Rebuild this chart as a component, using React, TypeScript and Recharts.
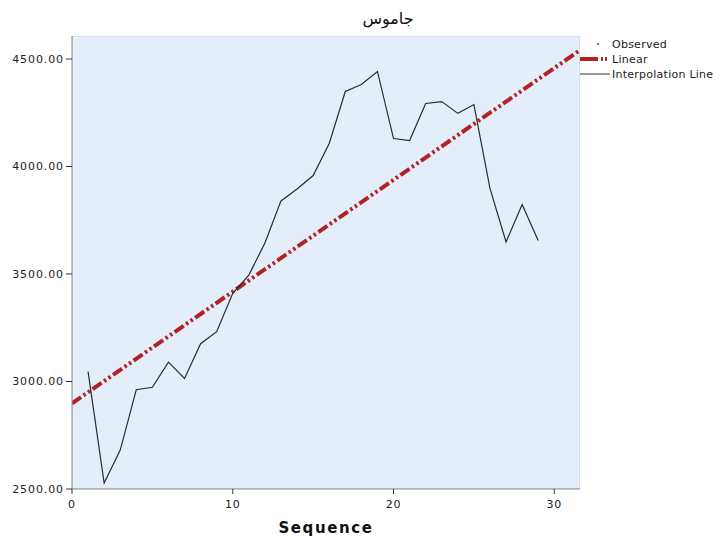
import React from 'react';
import { LineChart, Line, XAxis, YAxis, ReferenceArea } from 'recharts';

const sequence = [1, 2, 3, 4, 5, 6, 7, 8, 9, 10, 11, 12, 13, 14, 15, 16, 17, 18, 19, 20, 21, 22, 23, 24, 25, 26, 27, 28, 29];
const observed = [3046, 2528, 2681, 2962, 2973, 3090, 3014, 3176, 3232, 3410, 3495, 3644, 3840, 3895, 3958, 4107, 4349, 4381, 4442, 4130, 4121, 4293, 4302, 4247, 4288, 3898, 3649, 3823, 3656];
const trendX = [0, 31.6];
const trendY = [2898, 4541];
const xTicks = [0, 10, 20, 30];
const yTicks = [2500, 3000, 3500, 4000, 4500];
const title = 'جاموس';
const legendLabels = ['Observed', 'Linear', 'Interpolation Line'];

const data: { seq: number; value?: number | null; trend?: number | null }[] = [
  { seq: trendX[0], value: null, trend: trendY[0] },
  ...sequence.map((s, i) => ({ seq: s, value: observed[i], trend: null })),
  { seq: trendX[1], value: null, trend: trendY[1] },
];

const FONT = '"DejaVu Sans", sans-serif';

const LegendBox = () => (
  <svg width={143} height={50} style={{ position: 'absolute', left: 578, top: 36, display: 'block' }}>
    <circle cx={20} cy={8} r={0.9} fill="#333" />
    <text x={34} y={12} fontFamily={FONT} fontSize={11} letterSpacing={0.25} fill="#222">{legendLabels[0]}</text>
    <line x1={2} y1={23} x2={29} y2={23} stroke="#b22222" strokeWidth={4} strokeDasharray="18 3 2 2 2 10" />
    <text x={34} y={27} fontFamily={FONT} fontSize={11} letterSpacing={0.25} fill="#222">{legendLabels[1]}</text>
    <line x1={2} y1={38} x2={32} y2={38} stroke="#777" strokeWidth={1.5} />
    <text x={34} y={42} fontFamily={FONT} fontSize={11} letterSpacing={0.25} fill="#222">{legendLabels[2]}</text>
  </svg>
);

export default function App() {
  return (
    <div style={{ position: 'absolute', left: 0, top: 0, width: 721, height: 537, background: '#fff' }}>
      <LineChart width={721} height={537} data={data} margin={{ top: 36, right: 141, bottom: 0, left: 0 }}>
        <ReferenceArea
          x1={0}
          x2={31.6}
          y1={2500}
          y2={4607}
          fill="#e3eefa"
          fillOpacity={1}
          stroke="#cfcfcf"
          strokeWidth={1}
          ifOverflow="hidden"
        />
        <XAxis
          dataKey="seq"
          type="number"
          domain={[0, 31.6]}
          ticks={xTicks}
          allowDataOverflow
          height={48}
          stroke="#888"
          tickSize={5}
          tickMargin={6}
          tickLine={{ stroke: '#333' }}
          tick={{ fontFamily: FONT, fontSize: 11, fill: '#222', letterSpacing: 0.8 }}
          label={{
            value: 'Sequence',
            position: 'insideBottom',
            offset: 4,
            style: { fontFamily: FONT, fontSize: 15, fontWeight: 'bold', fill: '#111', letterSpacing: 1.6 },
          }}
        />
        <YAxis
          type="number"
          domain={[2500, 4607]}
          ticks={yTicks}
          allowDataOverflow
          width={72}
          stroke="#888"
          tickSize={6}
          tickLine={{ stroke: '#333' }}
          tickFormatter={(v: number) => v.toFixed(2)}
          tick={{ fontFamily: FONT, fontSize: 11, fill: '#222', letterSpacing: 0.9 }}
        />
        <Line
          dataKey="trend"
          stroke="#b22222"
          strokeWidth={4}
          strokeDasharray="11 3 2.5 3 2.5 3"
          dot={false}
          activeDot={false}
          connectNulls
          isAnimationActive={false}
        />
        <Line
          dataKey="value"
          stroke="#2a2a2a"
          strokeWidth={1.2}
          dot={false}
          activeDot={false}
          isAnimationActive={false}
        />
      </LineChart>
      <div
        style={{
          position: 'absolute',
          left: 338,
          top: 9,
          width: 100,
          textAlign: 'center',
          fontFamily: FONT,
          fontSize: 16,
          color: '#111',
        }}
      >
        {title}
      </div>
      <LegendBox />
    </div>
  );
}
